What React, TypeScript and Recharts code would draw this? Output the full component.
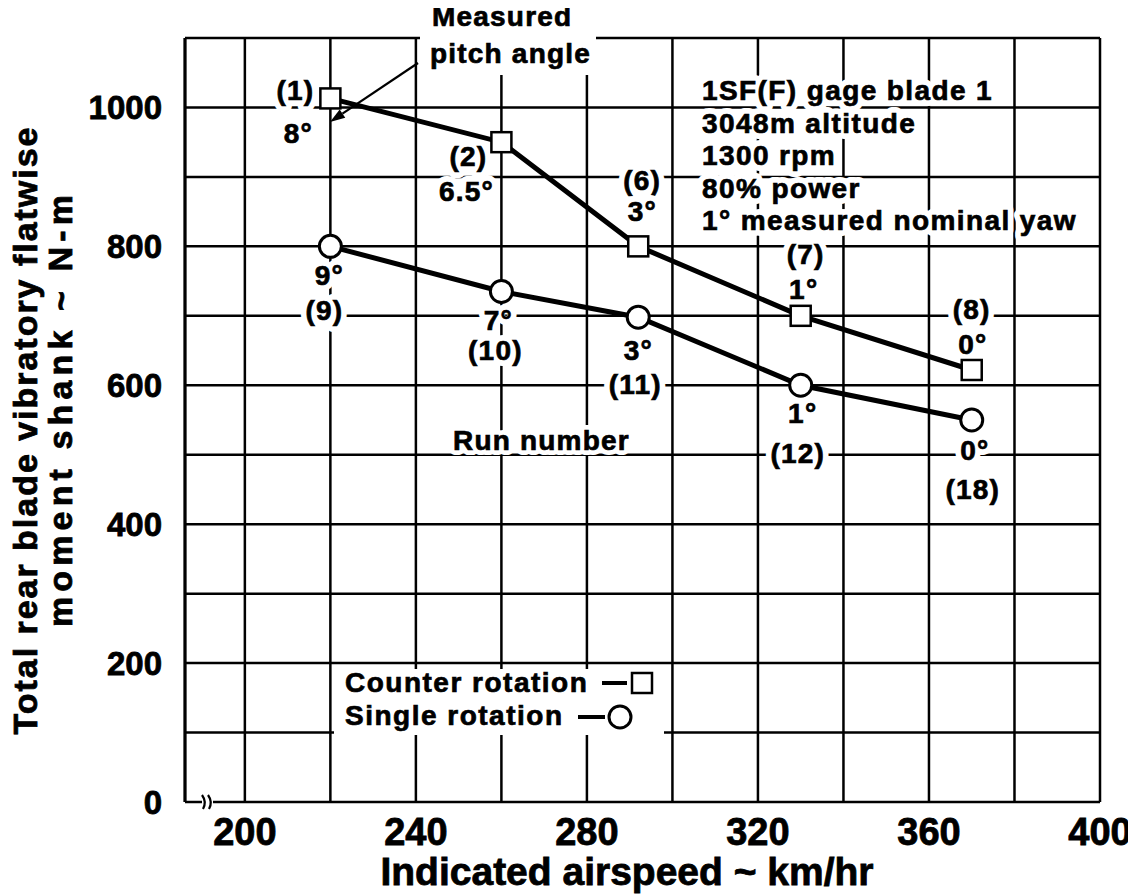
import React from 'react';
import { LineChart, Line, XAxis, YAxis, CartesianGrid } from 'recharts';

// blade 1 flatwise moment vs airspeed
const airspeed = [220, 260, 292, 330, 370];
const counterMoment = [1013, 950, 800, 700, 622];
const singleMoment = [800, 735, 698, 600, 550];
const counterRuns = ['(1)', '(2)', '(6)', '(7)', '(8)'];
const counterPitch = ['8°', '6.5°', '3°', '1°', '0°'];
const singleRuns = ['(9)', '(10)', '(11)', '(12)', '(18)'];
const singlePitch = ['9°', '7°', '3°', '1°', '0°'];

const xGridTicks = [200, 220, 240, 260, 280, 300, 320, 340, 360, 380, 400];
const xLabelTicks = [200, 240, 280, 320, 360, 400];
const yGridTicks = [0, 100, 200, 300, 400, 500, 600, 700, 800, 900, 1000, 1100];
const yLabelTicks = [0, 200, 400, 600, 800, 1000];

const infoLines = [
  '1SF(F) gage blade 1',
  '3048m altitude',
  '1300 rpm',
  '80% power',
  '1° measured nominal yaw',
];
const seriesNames = ['Counter rotation', 'Single rotation'];

const rows = airspeed.map((x, i) => ({
  x,
  counter: counterMoment[i],
  single: singleMoment[i],
}));

const FONT = '"Liberation Sans", Arial, Helvetica, sans-serif';

// where the run / pitch notes sit around each marker (px from the marker centre)
const counterRunPos = [[-35, -8], [-33, 14], [4, -66], [5, -62], [0, -61]];
const counterPitchPos = [[-32, 35], [-35, 49], [4, -35], [3, -27], [1, -26]];
const singlePitchPos = [[-1, 29], [-3, 28], [0, 33], [2, 28], [3, 30]];
const singleRunPos = [[-6, 64], [-6, 58], [-3, 67], [-3, 68], [1, 69]];

// bold text, slightly fattened, with an optional white knock-out behind it
const Note = ({ x, y, text, size = 28, anchor = 'middle', halo = 12, spacing = 1.2 }: any) => {
  const common = {
    x,
    y,
    textAnchor: anchor,
    fontFamily: FONT,
    fontWeight: 700,
    fontSize: size,
    letterSpacing: spacing,
  };
  return (
    <g>
      {halo > 0 && (
        <text {...common} fill="#fff" stroke="#fff" strokeWidth={halo} strokeLinejoin="round">
          {text}
        </text>
      )}
      <text {...common} fill="#000" stroke="#000" strokeWidth={0.7}>
        {text}
      </text>
    </g>
  );
};

const counterNotes = (props: any) => {
  const { cx, cy, index } = props;
  if (cx == null || cy == null) return <g key={'cn' + index} />;
  const [rx, ry] = counterRunPos[index];
  const [px, py] = counterPitchPos[index];
  return (
    <g key={'cn' + index}>
      <Note x={cx + rx} y={cy + ry + 10} text={counterRuns[index]} />
      <Note x={cx + px} y={cy + py + 10} text={counterPitch[index]} />
    </g>
  );
};

const singleNotes = (props: any) => {
  const { cx, cy, index } = props;
  if (cx == null || cy == null) return <g key={'sn' + index} />;
  const [rx, ry] = singleRunPos[index];
  const [px, py] = singlePitchPos[index];
  return (
    <g key={'sn' + index}>
      <Note x={cx + px} y={cy + py + 10} text={singlePitch[index]} />
      <Note x={cx + rx} y={cy + ry + 10} text={singleRuns[index]} />
    </g>
  );
};

const squareDot = (props: any) => {
  const { cx, cy, index } = props;
  if (cx == null || cy == null) return <g key={'sq' + index} />;
  return (
    <rect key={'sq' + index} x={cx - 10} y={cy - 10} width={20} height={20} fill="#fff" stroke="#000" strokeWidth={2.5} />
  );
};

const circleDot = (props: any) => {
  const { cx, cy, index } = props;
  if (cx == null || cy == null) return <g key={'ci' + index} />;
  return <circle key={'ci' + index} cx={cx} cy={cy} r={11} fill="#fff" stroke="#000" strokeWidth={3} />;
};

const XTick = ({ x, y, payload }: any) => {
  if (!xLabelTicks.includes(payload.value)) return <g />;
  return (
    <text x={x} y={y + 43} textAnchor="middle" fontFamily={FONT} fontWeight={700} fontSize={38}
      fill="#000" stroke="#000" strokeWidth={0.8}>
      {payload.value}
    </text>
  );
};

const YTick = ({ x, y, payload }: any) => {
  if (!yLabelTicks.includes(payload.value)) return <g />;
  return (
    <text x={x - 23} y={y + 12} textAnchor="end" fontFamily={FONT} fontWeight={700} fontSize={33}
      fill="#000" stroke="#000" strokeWidth={0.8}>
      {payload.value}
    </text>
  );
};

// arrow from "pitch angle" down to the 8° note
const arrowFrom = [410, 55];
const arrowTo = [322, 114];

const Arrow = () => {
  const dx = arrowTo[0] - arrowFrom[0];
  const dy = arrowTo[1] - arrowFrom[1];
  const len = Math.hypot(dx, dy);
  const ux = dx / len;
  const uy = dy / len;
  const bx = arrowTo[0] - ux * 15;
  const by = arrowTo[1] - uy * 15;
  const pts = [
    `${arrowTo[0]},${arrowTo[1]}`,
    `${bx - uy * 5},${by + ux * 5}`,
    `${bx + uy * 5},${by - ux * 5}`,
  ].join(' ');
  return (
    <g>
      <line x1={arrowFrom[0]} y1={arrowFrom[1]} x2={bx} y2={by} stroke="#000" strokeWidth={2.2} />
      <polygon points={pts} fill="#000" />
    </g>
  );
};

export default function App() {
  return (
    <div style={{ position: 'relative', width: 1128, height: 886, background: '#fff' }}>
      <LineChart
        width={1128}
        height={878}
        data={rows}
        margin={{ top: 30, right: 36, bottom: 0, left: 0 }}
      >
        <CartesianGrid stroke="#000" strokeWidth={2.5} />
        <XAxis
          type="number"
          dataKey="x"
          domain={[186, 400]}
          ticks={xGridTicks}
          interval={0}
          height={84}
          axisLine={false}
          tickLine={false}
          tickSize={0}
          tickMargin={0}
          tick={(p: any) => <XTick {...p} />}
        />
        <YAxis
          type="number"
          domain={[0, 1100]}
          ticks={yGridTicks}
          interval={0}
          width={177}
          axisLine={{ stroke: '#000', strokeWidth: 3 }}
          tickLine={false}
          tickSize={0}
          tickMargin={0}
          tick={(p: any) => <YTick {...p} />}
        />
        {/* run numbers and pitch angles first, so the curves stay on top */}
        <Line dataKey="counter" stroke="none" strokeWidth={0} dot={counterNotes} activeDot={false} isAnimationActive={false} />
        <Line dataKey="single" stroke="none" strokeWidth={0} dot={singleNotes} activeDot={false} isAnimationActive={false} />
        <Line
          dataKey="counter"
          stroke="#000"
          strokeWidth={5}
          dot={squareDot}
          isAnimationActive={false}
        />
        <Line
          dataKey="single"
          stroke="#000"
          strokeWidth={5}
          dot={circleDot}
          isAnimationActive={false}
        />
      </LineChart>

      <svg
        width={1128}
        height={886}
        style={{ position: 'absolute', left: 0, top: 0, overflow: 'visible', pointerEvents: 'none' }}
      >
        {/* measured pitch angle callout */}
        <rect x={412} y={-8} width={176} height={75} fill="#fff" />
        <Note x={424} y={18} text="Measured" anchor="start" halo={0} />
        <Note x={422} y={55} text="pitch angle" anchor="start" halo={0} />
        <Arrow />

        {/* test conditions */}
        {infoLines.map((t, i) => (
          <Note key={t} x={694} y={92 + i * 32.5} text={t} anchor="start" halo={12} spacing={1.4} />
        ))}

        <Note x={445} y={442} text="Run number" anchor="start" halo={10} />

        {/* legend */}
        <rect x={326} y={661} width={330} height={66} fill="#fff" />
        <Note x={337} y={684} text={seriesNames[0]} anchor="start" halo={0} spacing={1.5} />
        <line x1={594} y1={675} x2={619} y2={675} stroke="#000" strokeWidth={4} />
        <rect x={624} y={665} width={20} height={20} fill="#fff" stroke="#000" strokeWidth={2.5} />
        <Note x={337} y={717} text={seriesNames[1]} anchor="start" halo={0} spacing={1.5} />
        <line x1={570} y1={709} x2={597} y2={709} stroke="#000" strokeWidth={4} />
        <circle cx={612} cy={709} r={11} fill="#fff" stroke="#000" strokeWidth={3} />

        {/* axis break on the airspeed axis */}
        <rect x={194} y={786} width={11} height={14} fill="#fff" />
        <path d="M194 787 Q199 794 195 801 M200 787 Q205 794 201 801" fill="none" stroke="#000" strokeWidth={2.2} />

        {/* axis titles */}
        <text
          transform="translate(29 423) rotate(-90)"
          textAnchor="middle"
          fontFamily={FONT}
          fontWeight={700}
          fontSize={34}
          textLength={607}
          lengthAdjust="spacing"
          fill="#000"
          stroke="#000"
          strokeWidth={0.8}
        >
          Total rear blade vibratory flatwise
        </text>
        <text
          transform="translate(64 403) rotate(-90)"
          textAnchor="middle"
          fontFamily={FONT}
          fontWeight={700}
          fontSize={34}
          textLength={432}
          lengthAdjust="spacing"
          fill="#000"
          stroke="#000"
          strokeWidth={0.8}
        >
          moment shank ~ N-m
        </text>
        <text x={619} y={877} textAnchor="middle" fontFamily={FONT} fontWeight={700} fontSize={39}
          fill="#000" stroke="#000" strokeWidth={0.8}>
          Indicated airspeed ~ km/hr
        </text>
      </svg>
    </div>
  );
}
